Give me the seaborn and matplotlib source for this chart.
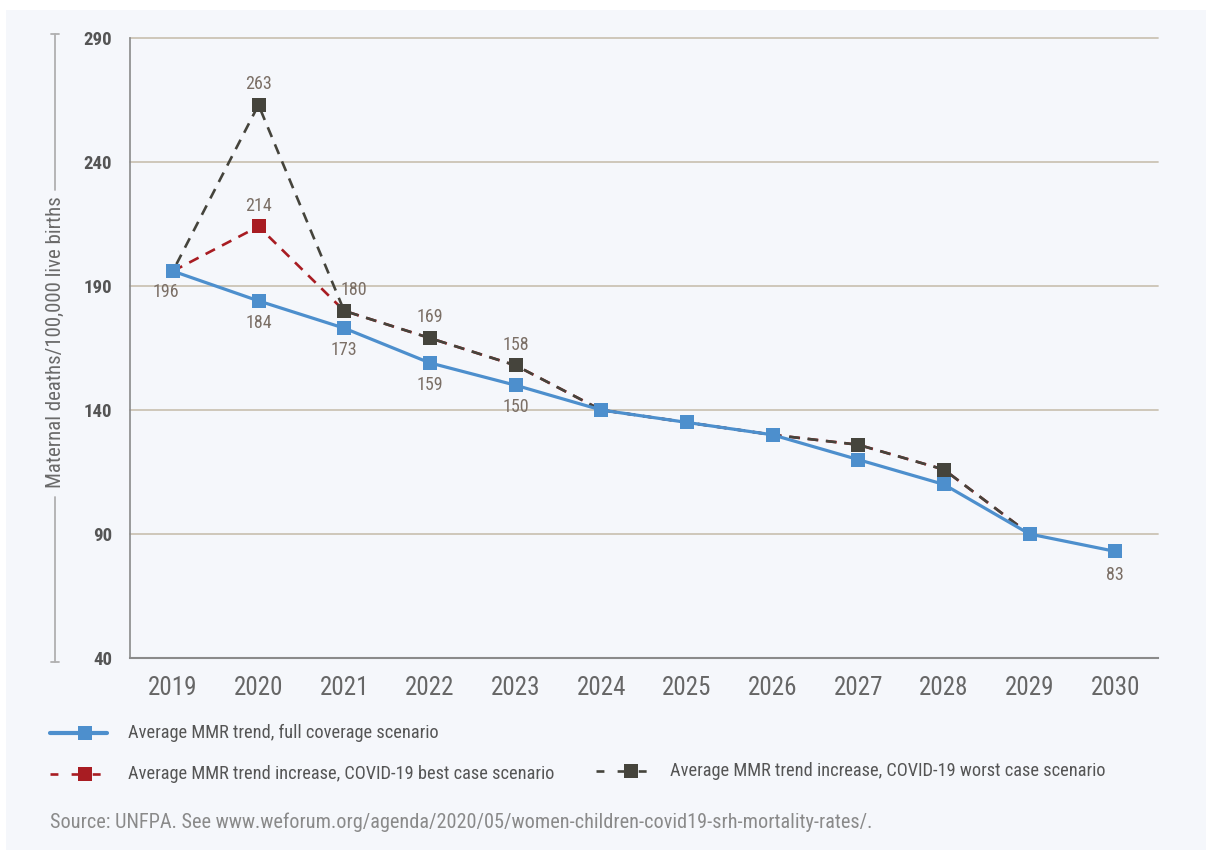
import numpy as np
import pandas as pd
import seaborn as sns
import matplotlib.pyplot as plt
from matplotlib.lines import Line2D
from matplotlib.patches import Rectangle

# ---- data -------------------------------------------------------------
years = [2019, 2020, 2021, 2022, 2023, 2024, 2025, 2026, 2027, 2028, 2029, 2030]
full_coverage = [196, 184, 173, 159, 150, 140, 135, 130, 120, 110, 90, 83]
best_case = [196, 214, 180, 169, 158, 140, 135, 130, 126, 116, 90, np.nan]
worst_case = [196, 263, 180, 169, 158, 140, 135, 130, 126, 116, 90, np.nan]

series_names = [
    "Average MMR trend, full coverage scenario",
    "Average MMR trend increase, COVID-19 best case scenario",
    "Average MMR trend increase, COVID-19 worst case scenario",
]
y_ticks = [40, 90, 140, 190, 240, 290]
y_label = "Maternal deaths/100,000 live births"
source_text = "Source: UNFPA. See www.weforum.org/agenda/2020/05/women-children-covid19-srh-mortality-rates/."

# labelled points: year index -> text offset in points
labels_full = {0: (-5, -15), 1: (0, -16), 2: (0, -16), 3: (0, -16), 4: (0, -16), 11: (0, -17)}
labels_worst = {1: (0, 15), 2: (7, 15), 3: (0, 15), 4: (0, 15)}
labels_best = {1: (0, 15)}

# ---- style ------------------------------------------------------------
sns.set_theme(style="white")
cond = ["Roboto Condensed", "Liberation Sans Narrow", "Roboto", "DejaVu Sans"]
plt.rcParams["font.family"] = cond

BLUE = "#4d8fcd"
RED = "#a81c22"
DARK = "#45443c"
LABEL = "#7b6f66"
GRID = "#cbc3b5"
PANEL = "#f5f7fb"

fig = plt.figure(figsize=(12.06, 8.5), dpi=100)
fig.patch.set_facecolor("white")
fig.patches.append(Rectangle((6 / 1206, 0), 1, 1 - 10 / 850, transform=fig.transFigure,
                             facecolor=PANEL, edgecolor="none", zorder=-10))

ax = fig.add_axes([130 / 1206, 1 - 658 / 850, (1158 - 130) / 1206, (658 - 38) / 850])
ax.set_facecolor("none")

df = pd.DataFrame({"year": years, "full": full_coverage, "best": best_case, "worst": worst_case})

msize = 10
sns.lineplot(data=df, x="year", y="best", ax=ax, color=RED, lw=1.9,
             linestyle=(0, (4, 3)), marker="s", markersize=msize, markeredgewidth=0, zorder=3)
sns.lineplot(data=df, x="year", y="worst", ax=ax, color=DARK, lw=1.9,
             linestyle=(4.0, (4, 3)), marker="s", markersize=msize, markeredgewidth=0, zorder=4)
sns.lineplot(data=df, x="year", y="full", ax=ax, color=BLUE, lw=2.3,
             marker="s", markersize=msize, markeredgewidth=0, zorder=5)

# value labels
def annotate(values, spec):
    for i, (dx, dy) in spec.items():
        ax.annotate(f"{values[i]:.0f}", (years[i], values[i]), xytext=(dx, dy),
                    textcoords="offset points", ha="center", va="center",
                    fontsize=13, color=LABEL, zorder=6)

annotate(full_coverage, labels_full)
annotate(worst_case, labels_worst)
annotate(best_case, labels_best)

# axes
ax.set_xlim(years[0] - 0.5, years[-1] + 0.5)
ax.set_ylim(y_ticks[0], y_ticks[-1])
ax.set_yticks(y_ticks)
ax.set_yticklabels([str(t) for t in y_ticks], fontweight="bold", fontsize=13.5, color="#555555")
ax.set_xticks(years)
ax.set_xticklabels([str(y) for y in years], fontsize=18, color="#666666")
ax.set_xticks(np.arange(years[0] - 0.5, years[-1] + 0.6, 1.0), minor=True)
ax.tick_params(axis="x", which="major", length=0, pad=13)
ax.tick_params(axis="x", which="minor", direction="in", length=11, width=1.2, color="#8a8a8a")
ax.tick_params(axis="y", length=0, pad=13)
ax.set_xlabel("")
ax.set_ylabel("")

for yv in y_ticks[1:]:
    ax.axhline(yv, color=GRID, lw=1.3, zorder=1, clip_on=False)

for side in ["top", "right"]:
    ax.spines[side].set_visible(False)
ax.spines["left"].set_color("#8a8a8a")
ax.spines["bottom"].set_color("#8a8a8a")
ax.spines["left"].set_linewidth(1.2)
ax.spines["bottom"].set_linewidth(1.5)

# vertical axis title with bracket lines
fx = 55 / 1206
def fy(py):
    return 1 - py / 850

bracket = dict(color="#b0b0b0", lw=1.3, transform=fig.transFigure)
fig.lines.append(Line2D([fx, fx], [fy(34), fy(190)], **bracket))
fig.lines.append(Line2D([fx, fx], [fy(497), fy(662)], **bracket))
fig.lines.append(Line2D([fx - 4 / 1206, fx + 4 / 1206], [fy(34), fy(34)], **bracket))
fig.lines.append(Line2D([fx - 4 / 1206, fx + 4 / 1206], [fy(662), fy(662)], **bracket))
fig.text(fx, fy(342), y_label, rotation=90, ha="center", va="center",
         fontsize=15, color="#6a6a6a")

# legend
def legend_entry(x0, y, color, ls, lw, text, text_x):
    fig.lines.append(Line2D([x0 / 1206, (x0 + 57) / 1206], [fy(y), fy(y)], color=color,
                            linestyle=ls, lw=lw, transform=fig.transFigure))
    fig.lines.append(Line2D([(x0 + 35) / 1206], [fy(y)], color=color, marker="s",
                            markersize=msize, markeredgewidth=0, transform=fig.transFigure,
                            linestyle="none"))
    fig.text(text_x / 1206, fy(y), text, ha="left", va="center", fontsize=13.2, color="#555555")

legend_entry(50, 733, BLUE, "-", 3.0, series_names[0], 128)
legend_entry(50, 774, RED, (0, (3, 5)), 1.9, series_names[1], 128)
legend_entry(596, 771, DARK, (0, (3, 5)), 1.9, series_names[2], 670)

fig.text(50 / 1206, fy(822), source_text, ha="left", va="center", fontsize=14.6, color="#8a8a8a")

fig.savefig("out.png", dpi=100, facecolor=fig.get_facecolor())
